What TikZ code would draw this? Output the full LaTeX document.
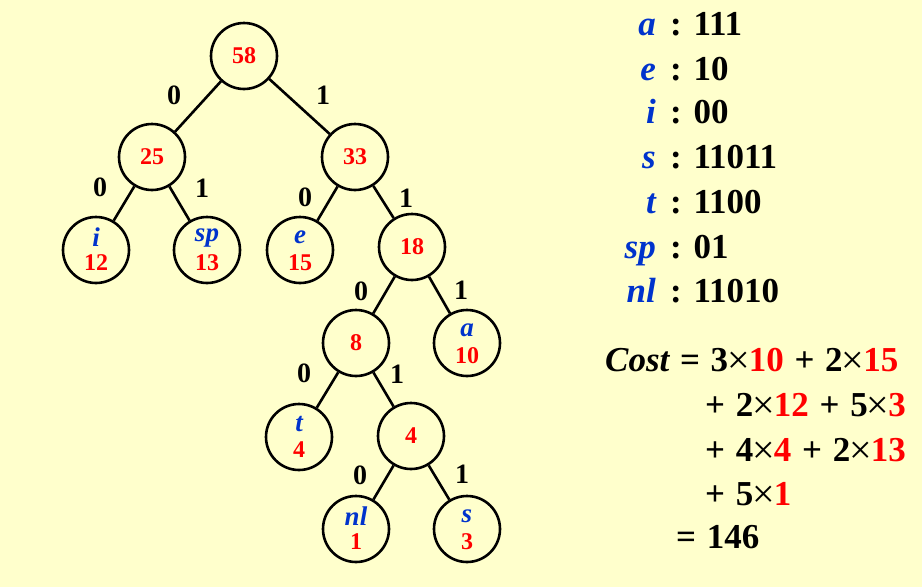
\documentclass[tikz,border=0pt]{standalone}
\usepackage{fontspec}
\setmainfont{Liberation Serif}
\definecolor{bg}{RGB}{255,255,204}
\definecolor{lblue}{RGB}{0,51,204}
\definecolor{lred}{RGB}{255,0,0}
\tikzset{
  hn/.style={circle, draw=black, line width=2.6pt, fill=bg, minimum size=66pt, inner sep=0pt},
  numt/.style={text=lred, font=\fontsize{24}{24}\selectfont\bfseries, inner sep=0pt},
  lett/.style={text=lblue, font=\fontsize{27}{27}\selectfont\bfseries\itshape, inner sep=0pt},
  el/.style={font=\fontsize{28}{28}\selectfont\bfseries, inner sep=0pt},
  tedge/.style={line width=2.6pt},
  bigt/.style={font=\fontsize{35}{35}\selectfont\bfseries, inner sep=0pt},
  bigl/.style={font=\fontsize{35}{35}\selectfont\bfseries\itshape, text=lblue, inner sep=0pt},
}
\newcommand{\rn}[1]{\textcolor{lred}{#1}}
\newcommand{\tm}{{\mdseries\fontsize{40}{40}\selectfont\kern-1pt\raisebox{-2.5pt}{×}\kern-1pt}}
\newcommand{\pl}{\kern2pt{} + \kern2pt{}}
\newcommand{\eq}{\kern1pt{} = \kern2pt{}}
\begin{document}
\begin{tikzpicture}[x=1pt,y=-1pt]
\fill[bg] (0,0) rectangle (922,587);
\useasboundingbox (0,0) rectangle (922,587);
% tree nodes
\node[hn] (n58) at (244,56) {};
\node[hn] (n25) at (152,157) {};
\node[hn] (n33) at (355,157) {};
\node[hn] (ni) at (96,250) {};
\node[hn] (nsp) at (207,250) {};
\node[hn] (ne) at (300,250) {};
\node[hn] (n18) at (412,247) {};
\node[hn] (n8) at (356,343) {};
\node[hn] (na) at (467,343) {};
\node[hn] (nt) at (299,437) {};
\node[hn] (n4) at (411,436) {};
\node[hn] (nnl) at (356,529) {};
\node[hn] (ns) at (467,529) {};
% edges
\draw[tedge] (n58) -- (n25);
\draw[tedge] (n58) -- (n33);
\draw[tedge] (n25) -- (ni);
\draw[tedge] (n25) -- (nsp);
\draw[tedge] (n33) -- (ne);
\draw[tedge] (n33) -- (n18);
\draw[tedge] (n18) -- (n8);
\draw[tedge] (n18) -- (na);
\draw[tedge] (n8) -- (nt);
\draw[tedge] (n8) -- (n4);
\draw[tedge] (n4) -- (nnl);
\draw[tedge] (n4) -- (ns);
% internal numbers
\node[numt] (t58) at (n58) {58};
\node[numt] (t25) at (n25) {25};
\node[numt] (t33) at (n33) {33};
\node[numt] (t18) at (n18) {18};
\node[numt] (t8) at (n8) {8};
\node[numt] (t4) at (n4) {4};
% leaves
\node[lett] (li) at ([yshift=13pt]ni.center) {i};
\node[numt] (vi) at ([yshift=-13pt]ni.center) {12};
\node[lett] (lsp) at ([yshift=12pt]nsp.center) {sp};
\node[numt] (vsp) at ([yshift=-13pt]nsp.center) {13};
\node[lett] (le) at ([yshift=13pt]ne.center) {e};
\node[numt] (ve) at ([yshift=-13pt]ne.center) {15};
\node[lett] (la) at ([yshift=13pt]na.center) {a};
\node[numt] (va) at ([yshift=-13pt]na.center) {10};
\node[lett] (lt) at ([yshift=13pt]nt.center) {t};
\node[numt] (vt) at ([yshift=-13pt]nt.center) {4};
\node[lett] (lnl) at ([yshift=13pt]nnl.center) {nl};
\node[numt] (vnl) at ([yshift=-13pt]nnl.center) {1};
\node[lett] (ls) at ([yshift=13pt]ns.center) {s};
\node[numt] (vs) at ([yshift=-13pt]ns.center) {3};
% edge labels
\node[el] (e1) at (174,95) {0};
\node[el] (e2) at (323,95) {1};
\node[el] (e3) at (100,187) {0};
\node[el] (e4) at (202,188) {1};
\node[el] (e5) at (305,197) {0};
\node[el] (e6) at (406,198) {1};
\node[el] (e7) at (361,291) {0};
\node[el] (e8) at (461,290) {1};
\node[el] (e9) at (304,373) {0};
\node[el] (e10) at (397,374) {1};
\node[el] (e11) at (360,475) {0};
\node[el] (e12) at (462,474) {1};
% code table
\node[bigl, anchor=base east] (ca) at (656,35) {a};
\node[bigt, anchor=base west] (cva) at (670,35) {: 111};
\node[bigl, anchor=base east] (ce) at (656,80) {e};
\node[bigt, anchor=base west] (cve) at (670,80) {: 10};
\node[bigl, anchor=base east] (ci) at (656,123) {i};
\node[bigt, anchor=base west] (cvi) at (670,123) {: 00};
\node[bigl, anchor=base east] (cs) at (656,168) {s};
\node[bigt, anchor=base west] (cvs) at (670,168) {: 11011};
\node[bigl, anchor=base east] (ct) at (656,213) {t};
\node[bigt, anchor=base west] (cvt) at (670,213) {: 1100};
\node[bigl, anchor=base east] (csp) at (656,258) {sp};
\node[bigt, anchor=base west] (cvsp) at (670,258) {: 01};
\node[bigl, anchor=base east] (cnl) at (656,302) {nl};
\node[bigt, anchor=base west] (cvnl) at (670,302) {: 11010};
% cost
\node[bigt, anchor=base west] (cost1) at (605,371) {\textit{Cost}\eq3\tm\rn{10}\pl2\tm\rn{15}};
\node[bigt, anchor=base west] (cost2) at (705,416) {+\kern2pt{} 2\tm\rn{12}\pl5\tm\rn{3}};
\node[bigt, anchor=base west] (cost3) at (705,461) {+\kern2pt{} 4\tm\rn{4}\pl2\tm\rn{13}};
\node[bigt, anchor=base west] (cost4) at (705,505) {+\kern2pt{} 5\tm\rn{1}};
\node[bigt, anchor=base west] (cost5) at (676,548) {=\kern2pt{} 146};
\end{tikzpicture}
\end{document}
